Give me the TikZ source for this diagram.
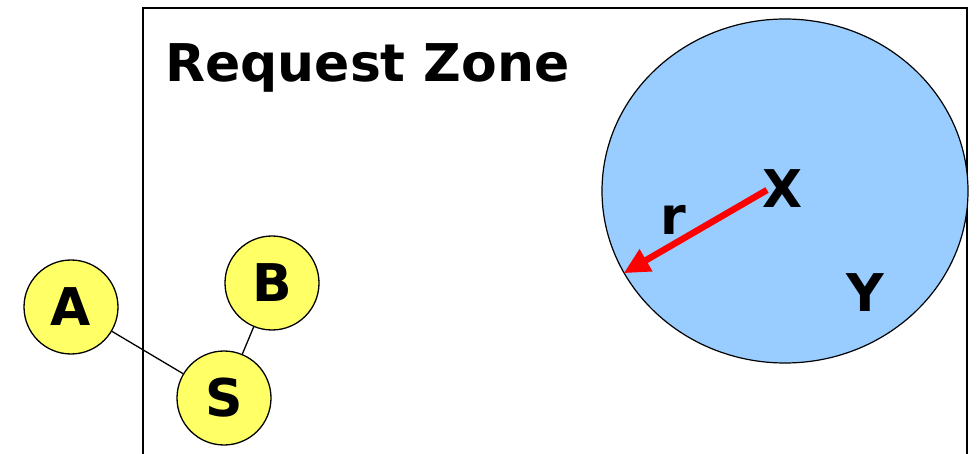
\documentclass[tikz,border=0pt]{standalone}
\usepackage{fontspec}
\setmainfont{DejaVu Sans}
\usetikzlibrary{arrows.meta,shapes.geometric}
\definecolor{nodeyellow}{HTML}{FFFF66}
\definecolor{zoneblue}{HTML}{99CCFF}
\begin{document}
\begin{tikzpicture}[x=1pt, y=-1pt,
  big/.style = {font=\fontsize{52}{60}\selectfont\bfseries, inner sep=0pt},
  main/.style = {draw, circle, line width=1.3pt, fill=nodeyellow, minimum size=94pt, inner sep=0pt, big}]
\useasboundingbox (0,0) rectangle (977,454);

% request zone frame
\draw[line width=1.6pt] (143,460) -- (143,8) -- (967,8) -- (967,460);
\node[big, anchor=base west] (title) at (165,82) {Request Zone};

% zone around X
\node[draw, ellipse, line width=1.2pt, fill=zoneblue, minimum width=366pt, minimum height=344pt, inner sep=0pt] (zone) at (785,191) {};
\node[big] (X) at (783,189) {X};
\node[big] (Y) at (865,293) {Y};
\node[big] (r) at (673,220) {r};
\coordinate (xc) at (767,190);
\draw[red, line width=6.5pt, -{Triangle[length=26pt, width=24pt]}] (xc) -- (zone.207);

% nodes
\node[main] (A) at (71,307) {A};
\node[main] (B) at (272,283) {B};
\node[main] (S) at (224,398) {S};

\draw[line width=1.3pt] (A) -- (S);
\draw[line width=1.3pt] (B) -- (S);
\end{tikzpicture}
\end{document}
